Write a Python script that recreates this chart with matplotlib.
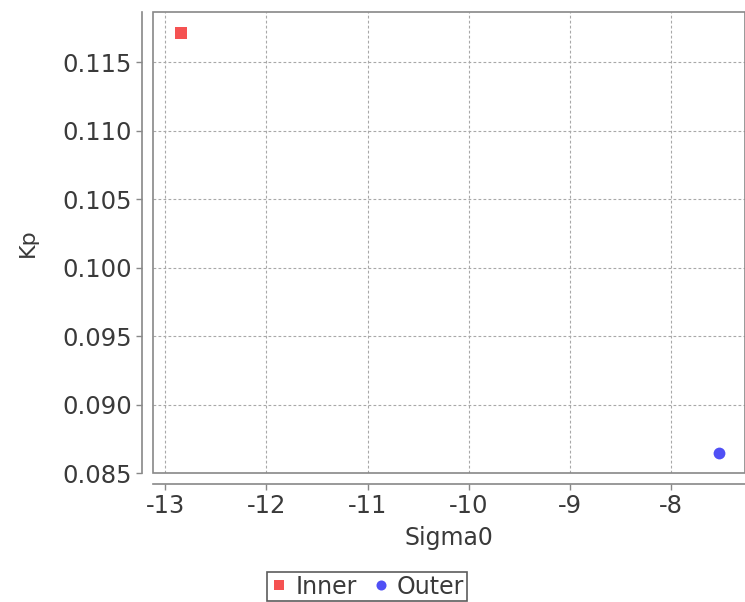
import matplotlib.pyplot as plt
from matplotlib.patches import Rectangle

series = ["Inner", "Outer"]
sigma0 = [-12.84, -7.53]
kp = [0.11712, 0.08646]
colors = ["#f55252", "#5050f5"]
markers = ["s", "o"]

x_ticks = [-13, -12, -11, -10, -9, -8]
y_ticks = [0.085, 0.090, 0.095, 0.100, 0.105, 0.110, 0.115]

txt = "#3a3a3a"
plt.rcParams['font.family'] = ['DejaVu Sans']
plt.rcParams['axes.unicode_minus'] = False

fig = plt.figure(figsize=(7.45, 6.02), dpi=100)
ax = fig.add_axes([153 / 745, 1 - 473 / 602, 1 - 153 / 745, (473 - 12) / 602])

for name, x, y, c, m in zip(series, sigma0, kp, colors, markers):
    ax.plot([x], [y], linestyle="none", marker=m, markersize=8.5,
            color=c, markeredgewidth=0, label=name)

ax.set_xlim(-13.12, -7.27)
ax.set_ylim(0.085, 0.11865)
ax.set_xticks(x_ticks)
ax.set_yticks(y_ticks)
ax.set_yticklabels(["%.3f" % v for v in y_ticks])

ax.grid(True, color="#a8a8a8", linestyle=(0, (2.5, 2)), linewidth=0.8)
ax.set_axisbelow(True)

# plot border + offset axis lines (JFreeChart style)
for s in ["top", "right"]:
    ax.spines[s].set_visible(False)
for s in ["left", "bottom"]:
    ax.spines[s].set_position(("outward", 8))
    ax.spines[s].set_color("#888888")
    ax.spines[s].set_linewidth(1.2)
ax.add_patch(Rectangle((0, 0), 1, 1, transform=ax.transAxes, fill=False,
                       edgecolor="#888888", linewidth=1.2, clip_on=False))

ax.tick_params(axis="both", direction="out", length=4, width=1, color="#888888",
               labelsize=17.5, labelcolor=txt, pad=3)

ax.set_xlabel("Sigma0", fontsize=17, color=txt, labelpad=6)
ax.set_ylabel("Kp", fontsize=16, color=txt, labelpad=18)

leg = fig.legend(loc="upper center", bbox_to_anchor=(367 / 745, 1 - 560 / 602),
                 ncol=2, frameon=True, fancybox=False, fontsize=17,
                 handletextpad=0.3, columnspacing=0.6, borderpad=0.12,
                 handlelength=0.8, markerscale=0.85)
leg.get_frame().set_edgecolor("#333333")
leg.get_frame().set_linewidth(1.2)
for t in leg.get_texts():
    t.set_color(txt)

fig.savefig("out.png", dpi=100, facecolor="white")
